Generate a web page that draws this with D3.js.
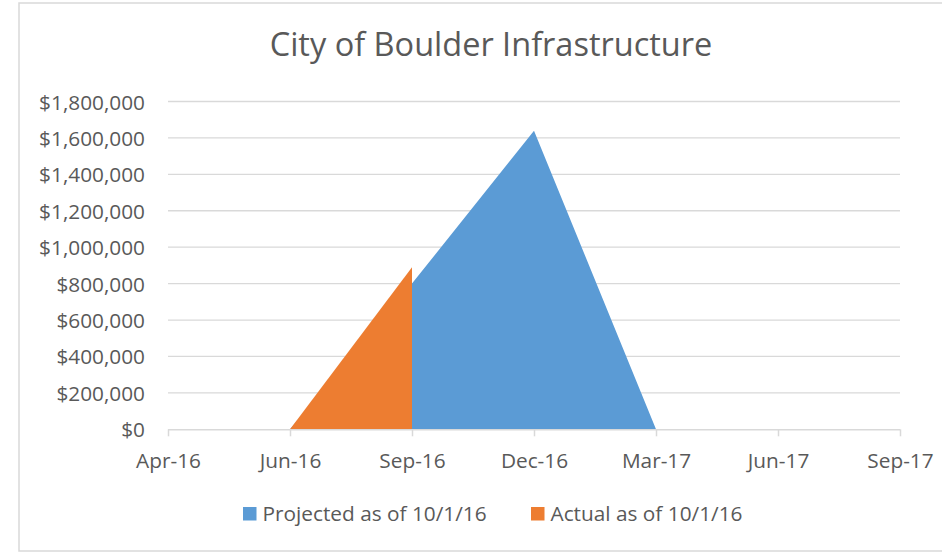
<!DOCTYPE html>
<html>
<head>
<meta charset="utf-8">
<script src="https://cdn.jsdelivr.net/npm/d3@7"></script>
<style>
  html, body { margin: 0; padding: 0; background: #ffffff; }
  svg { display: block; }
  text { font-family: "Open Sans", sans-serif; fill: #595959; }
</style>
</head>
<body>
<svg id="chart" width="942" height="552"></svg>
<script>
// ---- data ----
const title = "City of Boulder Infrastructure";
const categories = ["Apr-16", "Jun-16", "Sep-16", "Dec-16", "Mar-17", "Jun-17", "Sep-17"];
const projected = [null, 0, 800000, 1640000, 0, null, null];
const actual = [null, 0, 890000, null, null, null, null];
const yTicks = [0, 200000, 400000, 600000, 800000, 1000000, 1200000, 1400000, 1600000, 1800000];
const seriesNames = ["Projected as of 10/1/16", "Actual as of 10/1/16"];
const seriesColors = ["#5B9BD5", "#ED7D31"];

// ---- layout ----
const svg = d3.select("#chart");
const W = 942, H = 552;
const plot = { left: 168, right: 900, top: 101.5, bottom: 429.3 };
const labelSize = "20.8px";

// chart border
svg.append("rect")
  .attr("x", 19).attr("y", 3)
  .attr("width", W + 10).attr("height", 548)
  .attr("fill", "#ffffff")
  .attr("stroke", "#d9d9d9").attr("stroke-width", 1.5);

const x = d3.scalePoint().domain(categories).range([plot.left, plot.right]).padding(0);
const y = d3.scaleLinear().domain([0, 1800000]).range([plot.bottom, plot.top]);

// gridlines
svg.append("g").selectAll("line")
  .data(yTicks.filter(d => d > 0))
  .join("line")
  .attr("x1", plot.left).attr("x2", plot.right)
  .attr("y1", d => y(d)).attr("y2", d => y(d))
  .attr("stroke", "#d9d9d9").attr("stroke-width", 1.3);

// y axis labels
const fmt = d3.format("$,.0f");
const yAxis = d3.axisLeft(y).tickValues(yTicks).tickFormat(fmt).tickSize(0).tickPadding(0);
const gy = svg.append("g").attr("transform", `translate(${plot.left - 23},0)`).call(yAxis);
gy.select(".domain").remove();
gy.selectAll("text")
  .style("font-family", '"Open Sans", sans-serif')
  .style("font-size", labelSize)
  .attr("fill", "#595959")
  .attr("dy", "0.36em");

// areas
function areaFor(vals) {
  const pts = categories.map((c, i) => ({ c, v: vals[i] }));
  return d3.area()
    .defined(d => d.v !== null)
    .x(d => x(d.c))
    .y0(y(0))
    .y1(d => y(d.v))(pts);
}
svg.append("path").attr("d", areaFor(projected)).attr("fill", seriesColors[0]);
svg.append("path").attr("d", areaFor(actual)).attr("fill", seriesColors[1]);

// x axis
const xAxis = d3.axisBottom(x).tickSize(7).tickPadding(17);
const gx = svg.append("g").attr("transform", `translate(0,${plot.bottom})`).call(xAxis);
gx.select(".domain").attr("stroke", "#d9d9d9").attr("stroke-width", 1.5)
  .attr("d", `M${plot.left},0.5H${plot.right}`);
gx.selectAll(".tick line").attr("stroke", "#d9d9d9").attr("stroke-width", 1.5);
gx.selectAll("text")
  .style("font-family", '"Open Sans", sans-serif')
  .style("font-size", labelSize)
  .attr("fill", "#595959");

// title
svg.append("text")
  .attr("x", 491).attr("y", 56)
  .attr("text-anchor", "middle")
  .style("font-size", "32.5px")
  .text(title);

// legend
const legendItems = [
  { name: seriesNames[0], color: seriesColors[0], x: 243 },
  { name: seriesNames[1], color: seriesColors[1], x: 531 }
];
const lg = svg.append("g");
legendItems.forEach(it => {
  lg.append("rect").attr("x", it.x).attr("y", 507).attr("width", 13.5).attr("height", 13.5).attr("fill", it.color);
  lg.append("text").attr("x", it.x + 19.5).attr("y", 520.8)
    .style("font-size", labelSize).text(it.name);
});
</script>
</body>
</html>
